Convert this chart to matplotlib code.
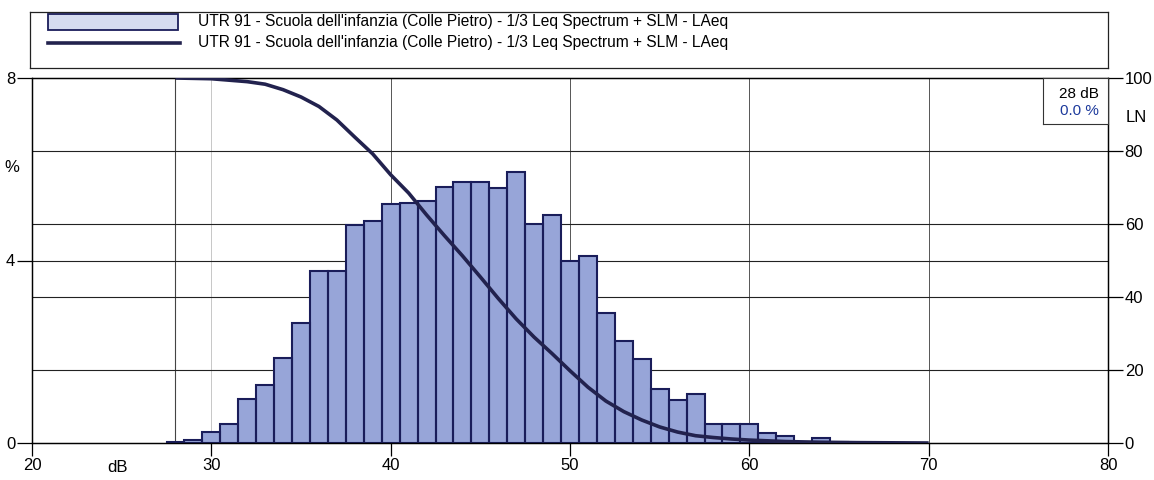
import matplotlib
matplotlib.use("Agg")
import matplotlib.pyplot as plt
from matplotlib.patches import Rectangle
from matplotlib.lines import Line2D

plt.rcParams['font.family'] = ['Liberation Sans', 'DejaVu Sans']
plt.rcParams['hatch.linewidth'] = 0.5

# level distribution, 1 dB classes (percent)
livelli = [28, 29, 30, 31, 32, 33, 34, 35, 36, 37, 38, 39, 40, 41, 42, 43, 44, 45, 46,
           47, 48, 49, 50, 51, 52, 53, 54, 55, 56, 57, 58, 59, 60, 61, 62, 63, 64, 65]
percentuali = [0.02, 0.07, 0.24, 0.42, 0.97, 1.27, 1.87, 2.62, 3.77, 3.77, 4.78, 4.87,
               5.24, 5.27, 5.30, 5.62, 5.71, 5.71, 5.60, 5.93, 4.80, 5.00, 4.00, 4.10,
               2.86, 2.24, 1.85, 1.18, 0.94, 1.07, 0.42, 0.42, 0.42, 0.22, 0.15, 0.03,
               0.10, 0.02]

# cumulative LN curve
ln_db = [28, 30, 32, 33, 34, 35, 36, 37, 38, 39, 40, 41, 42, 43, 44, 45, 46, 47, 48,
         49, 50, 51, 52, 53, 54, 55, 56, 57, 58, 59, 60, 62, 64, 66, 70]
ln_val = [100, 99.8, 99.0, 98.3, 96.8, 94.8, 92.2, 88.5, 83.8, 79.2, 73.5, 68.5, 62.5,
          56.8, 51.3, 45.5, 39.6, 34.0, 29.0, 24.5, 19.8, 15.3, 11.5, 8.6, 6.3, 4.4,
          3.0, 2.0, 1.5, 1.1, 0.8, 0.4, 0.2, 0.1, 0.0]

cursore_db = 28
cursore_val = "0.0 %"
etichetta = "UTR 91 - Scuola dell'infanzia (Colle Pietro) - 1/3 Leq Spectrum + SLM - LAeq"

blu_bordo = '#1a1d5a'
blu_fill = '#7485c6'
blu_righe = '#97a5d8'
curva_col = '#22224e'

W, H = 1154, 480
fig = plt.figure(figsize=(W / 100, H / 100), dpi=100)
ax = fig.add_axes([32 / W, 37 / H, 1076 / W, 365 / H])
ax2 = ax.twinx()

ax.set_xlim(20, 80)
ax.set_ylim(0, 8)
ax2.set_ylim(0, 100)

# grid (behind bars)
ax.axvline(30, color='#b0b0b0', lw=0.5, zorder=0)
for v in [40, 50, 60, 70]:
    ax.axvline(v, color='#555555', lw=0.7, zorder=0)
ax.axvline(cursore_db, color='#444444', lw=0.8, zorder=0)
for v in [20, 40, 60, 80]:
    ax.axhline(v * 8 / 100, color='#222222', lw=0.8, zorder=0)
ax.axhline(4, color='#222222', lw=0.8, zorder=0)

# bars: fill, stripes, outline
ax.bar(livelli, percentuali, width=1.0, color=blu_fill, lw=0, zorder=2)
ax.bar(livelli, percentuali, width=1.0, facecolor='none', edgecolor=blu_righe,
       hatch='-' * 30, lw=0, zorder=3)
ax.bar(livelli, percentuali, width=1.0, facecolor='none', edgecolor=blu_bordo,
       lw=1.5, zorder=4)

ax2.plot(ln_db, ln_val, color=curva_col, lw=2.6, zorder=5, solid_capstyle='butt')

ax.set_xticks(range(20, 81, 10))
ax.set_yticks([0, 4, 8])
ax2.set_yticks([0, 20, 40, 60, 80, 100])
ax.tick_params(axis='x', direction='out', length=9, width=0.9, pad=2, labelsize=12)
ax.tick_params(axis='y', direction='out', length=11, width=0.9, pad=1, labelsize=12)
ax2.tick_params(axis='y', direction='out', length=11, width=0.9, pad=1, labelsize=12)
for a in (ax, ax2):
    for s in a.spines.values():
        s.set_color('black')
        s.set_linewidth(0.9)

fig.text(12 / W, 1 - 168 / H, '%', fontsize=12, ha='center', va='center')
fig.text(118 / W, 1 - 467 / H, 'dB', fontsize=12, ha='center', va='center')
fig.text(1136 / W, 1 - 117 / H, 'LN', fontsize=12, ha='center', va='center')

# cursor box
bx = fig.add_axes([1043 / W, 1 - 124 / H, 65 / W, 46 / H])
bx.set_xticks([])
bx.set_yticks([])
bx.patch.set_facecolor('white')
for s in bx.spines.values():
    s.set_color('#333333')
    s.set_linewidth(0.8)
bx.text(0.86, 0.65, f"{cursore_db} dB", ha='right', va='center', fontsize=11,
        transform=bx.transAxes)
bx.text(0.86, 0.28, cursore_val, ha='right', va='center', fontsize=11,
        color='#1d3a9c', transform=bx.transAxes)

# legend frame
lg = fig.add_axes([30 / W, 1 - 68 / H, 1078 / W, 56 / H])
lg.set_xlim(0, 1078)
lg.set_ylim(56, 0)
lg.set_xticks([])
lg.set_yticks([])
for s in lg.spines.values():
    s.set_color('#222222')
    s.set_linewidth(0.9)
lg.add_patch(Rectangle((18, 2), 130, 16, facecolor='#a5b2de', lw=0))
lg.add_patch(Rectangle((18, 2), 130, 16, facecolor='none', edgecolor='#d6dcf0',
                       hatch='-' * 30, lw=0))
lg.add_patch(Rectangle((18, 2), 130, 16, facecolor='none', edgecolor=blu_bordo, lw=1.3))
lg.add_line(Line2D([18, 150], [31, 31], color=curva_col, lw=2.6))
lg.text(168, 10, etichetta, fontsize=11.2, va='center', ha='left')
lg.text(168, 31, etichetta, fontsize=11.2, va='center', ha='left')

fig.savefig('out.png', dpi=100)
